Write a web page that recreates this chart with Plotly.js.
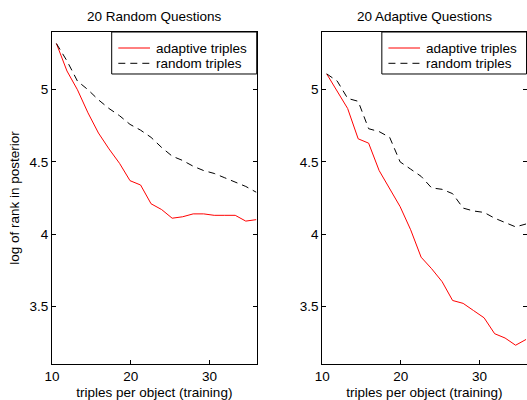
<!DOCTYPE html>
<html>
<head>
<meta charset="utf-8">
<script src="https://cdn.plot.ly/plotly-3.0.1.min.js"></script>
<style>html,body{margin:0;padding:0;background:#fff;}#chart{width:527px;height:400px;}</style>
</head>
<body>
<div id="chart"></div>
<script>
// triples per object (training)
const triplesPerObject = [10.56, 11.90, 13.23, 14.57, 15.90, 17.24, 18.58, 19.91, 21.25, 22.58, 23.92, 25.26, 26.59, 27.93, 29.26, 30.60, 31.94, 33.27, 34.61, 35.94];

// Panel 1: 20 Random Questions
const randomQ_adaptiveTriples = [5.32, 5.13, 5.00, 4.84, 4.70, 4.59, 4.49, 4.37, 4.34, 4.21, 4.17, 4.11, 4.12, 4.14, 4.14, 4.13, 4.13, 4.13, 4.09, 4.10];
const randomQ_randomTriples   = [5.32, 5.20, 5.06, 5.00, 4.93, 4.87, 4.82, 4.76, 4.72, 4.67, 4.60, 4.54, 4.51, 4.47, 4.44, 4.42, 4.39, 4.36, 4.33, 4.29];

// Panel 2: 20 Adaptive Questions
const adaptiveQ_adaptiveTriples = [5.11, 4.99, 4.87, 4.66, 4.63, 4.44, 4.31, 4.19, 4.03, 3.84, 3.76, 3.67, 3.54, 3.52, 3.47, 3.42, 3.31, 3.28, 3.23, 3.27];
const adaptiveQ_randomTriples   = [5.11, 5.06, 4.94, 4.92, 4.73, 4.71, 4.67, 4.50, 4.45, 4.40, 4.32, 4.31, 4.28, 4.18, 4.16, 4.15, 4.11, 4.08, 4.05, 4.07];

const panelTitles = ["20 Random Questions", "20 Adaptive Questions"];
const seriesNames = ["adaptive triples", "random triples"];
const xTitle = "triples per object (training)";
const yTitle = "log of rank in posterior";
const xTicks = [10, 20, 30];
const yTicks = [3.5, 4, 4.5, 5];

const FONT = "Liberation Sans, Arial, Helvetica, sans-serif";
const FS = 13.5;
const TXT = {family: FONT, size: FS, color: "#000"};

const redLine = {color: "#ff0000", width: 1};
const dashLine = {color: "#000000", width: 1, dash: "7px,5px"};
const seriesLines = [redLine, dashLine];

const traces = [
  {x: triplesPerObject, y: randomQ_adaptiveTriples, name: seriesNames[0], mode: "lines", line: redLine, xaxis: "x", yaxis: "y"},
  {x: triplesPerObject, y: randomQ_randomTriples, name: seriesNames[1], mode: "lines", line: dashLine, xaxis: "x", yaxis: "y"},
  {x: triplesPerObject, y: adaptiveQ_adaptiveTriples, name: seriesNames[0], mode: "lines", line: redLine, xaxis: "x2", yaxis: "y2"},
  {x: triplesPerObject, y: adaptiveQ_randomTriples, name: seriesNames[1], mode: "lines", line: dashLine, xaxis: "x2", yaxis: "y2"}
];

function xa(domain, anchor) {
  return {
    domain: domain, anchor: anchor, range: [10, 36],
    tickmode: "array", tickvals: xTicks, ticks: "inside", ticklen: 4, tickcolor: "#000",
    showline: true, linecolor: "#000", linewidth: 1, mirror: "ticks",
    showgrid: false, zeroline: false,
    tickfont: TXT,
    title: {text: xTitle, font: TXT, standoff: 4},
    automargin: false
  };
}
function ya(anchor, withTitle) {
  const a = {
    domain: [0, 1], anchor: anchor, range: [3.1, 5.4],
    tickmode: "array", tickvals: yTicks, ticks: "inside", ticklen: 4, tickcolor: "#000",
    showline: true, linecolor: "#000", linewidth: 1, mirror: "ticks",
    showgrid: false, zeroline: false,
    tickfont: TXT,
    automargin: false
  };
  if (withTitle) a.title = {text: yTitle, font: TXT, standoff: 6};
  return a;
}

// MATLAB-style legend box drawn in each panel's top-right corner (axis-domain fractions)
const shapes = [];
const annotations = [];
const panels = [["x", "y"], ["x2", "y2"]];
panels.forEach(([xr, yr], p) => {
  const xref = xr + " domain", yref = yr + " domain";
  shapes.push({type: "rect", xref, yref, x0: 0.2916, x1: 1, y0: 0.8735, y1: 1,
    line: {color: "#000", width: 1}, fillcolor: "#fff", layer: "above"});
  const rowY = [0.9518, 0.9057];
  seriesNames.forEach((nm, i) => {
    shapes.push({type: "line", xref, yref, x0: 0.3239, x1: 0.4787, y0: rowY[i], y1: rowY[i],
      line: seriesLines[i], layer: "above"});
    annotations.push({text: nm, xref, yref, x: 0.497, y: rowY[i], xanchor: "left", yanchor: "middle",
      showarrow: false, font: TXT});
  });
  annotations.push({text: panelTitles[p], xref, yref: "paper", x: 0.5, y: 1, xanchor: "center", yanchor: "middle",
    yshift: 15.5, showarrow: false, font: TXT});
});

const layout = {
  width: 527, height: 400,
  margin: {l: 52, r: 0, t: 32, b: 36},
  paper_bgcolor: "#fff", plot_bgcolor: "#fff",
  showlegend: false,
  xaxis: xa([0, 0.431], "y"),
  yaxis: ya("x", true),
  xaxis2: xa([0.569, 0.999], "y2"),
  yaxis2: ya("x2", false),
  shapes: shapes,
  annotations: annotations
};

Plotly.newPlot("chart", traces, layout, {displayModeBar: false, staticPlot: true});
</script>
</body>
</html>
